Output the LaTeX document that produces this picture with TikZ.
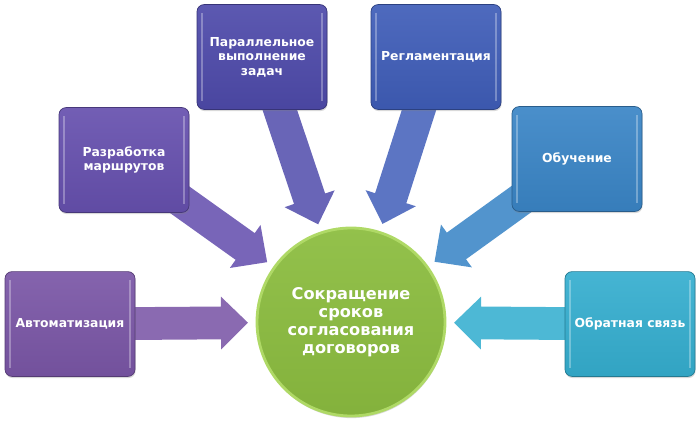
\documentclass[tikz,border=0pt]{standalone}
\usepackage{fontspec}
\setmainfont{DejaVu Sans}
\usetikzlibrary{calc,backgrounds,shadows}
\definecolor{autocolor}{HTML}{7A56A6}
\definecolor{routecolor}{HTML}{6650AE}
\definecolor{parallelcolor}{HTML}{4E4AAA}
\definecolor{rulecolor}{HTML}{3F5DB8}
\definecolor{traincolor}{HTML}{3A85C6}
\definecolor{feedcolor}{HTML}{35AECF}
\definecolor{hubcolor}{HTML}{8CBD40}
\definecolor{hubrim}{HTML}{AFD966}
\tikzset{
  task/.style={
    draw=#1!70!black,
    line width=0.5pt,
    top color=#1!92!white,
    bottom color=#1!94!black,
    rounded corners=5pt,
    minimum width=3.25cm,
    minimum height=2.62cm,
    align=center,
    text=white,
    font=\bfseries\fontsize{8.8}{10.4}\selectfont,
    drop shadow={opacity=0.3, shadow xshift=0.4pt, shadow yshift=-1.2pt},
    path picture={
      \draw[white, opacity=0.3, line width=1.2pt]
        ($(path picture bounding box.north west)+(0.13,-0.22)$)
        -- ($(path picture bounding box.south west)+(0.13,0.22)$);
      \draw[white, opacity=0.3, line width=1.2pt]
        ($(path picture bounding box.north east)+(-0.13,-0.22)$)
        -- ($(path picture bounding box.south east)+(-0.13,0.22)$);
    }
  },
  hub/.style={
    circle,
    draw=hubrim,
    line width=2pt,
    top color=hubcolor!94!white,
    bottom color=hubcolor!94!black,
    minimum size=4.7cm,
    align=center,
    text=white,
    font=\bfseries\fontsize{11.5}{12.8}\selectfont,
    drop shadow={opacity=0.3, shadow xshift=0.4pt, shadow yshift=-1.5pt}
  },
  feed/.style={
    fill=#1,
    draw=none,
    to path={
      let \p1=($(\tikztotarget)-(\tikztostart)$),
          \n1={atan2(\y1,\x1)},
          \n2={veclen(\x1,\y1)-2.575cm},
          \n3={veclen(\x1,\y1)-3.25cm}
      in ($(\tikztostart)+({\n1+90}:4.1mm)$)
      -- ($(\tikztostart)+(\n1:\n3)+({\n1+90}:4.1mm)$)
      -- ($(\tikztostart)+(\n1:\n3)+({\n1+90}:6.6mm)$)
      -- ($(\tikztostart)+(\n1:\n2)$)
      -- ($(\tikztostart)+(\n1:\n3)+({\n1-90}:6.6mm)$)
      -- ($(\tikztostart)+(\n1:\n3)+({\n1-90}:4.1mm)$)
      -- ($(\tikztostart)+({\n1-90}:4.1mm)$) -- cycle
    }
  }
}

\begin{document}
\begin{tikzpicture}
  \useasboundingbox (0,0) rectangle (17.5,10.675);

  \node[hub] (hub) at (8.775,2.625)
    {Сокращение\\сроков\\согласования\\договоров};

  \node[task=autocolor] (auto) at (1.75,2.575) {Автоматизация};
  \node[task=routecolor] (routes) at (3.1,6.675) {Разработка\\маршрутов};
  \node[task=parallelcolor] (parallel) at (6.55,9.25)
    {Параллельное\\выполнение\\задач};
  \node[task=rulecolor] (rules) at (10.9,9.25) {Регламентация};
  \node[task=traincolor] (training) at (14.425,6.7) {Обучение};
  \node[task=feedcolor] (feedback) at (15.75,2.575) {Обратная связь};

  \begin{scope}[on background layer]
    \path[feed=autocolor!88!white] (auto) to (hub);
    \path[feed=routecolor!88!white] (routes) to (hub);
    \path[feed=parallelcolor!85!white] (parallel) to (hub);
    \path[feed=rulecolor!85!white] (rules) to (hub);
    \path[feed=traincolor!88!white] (training) to (hub);
    \path[feed=feedcolor!88!white] (feedback) to (hub);
  \end{scope}
\end{tikzpicture}
\end{document}
